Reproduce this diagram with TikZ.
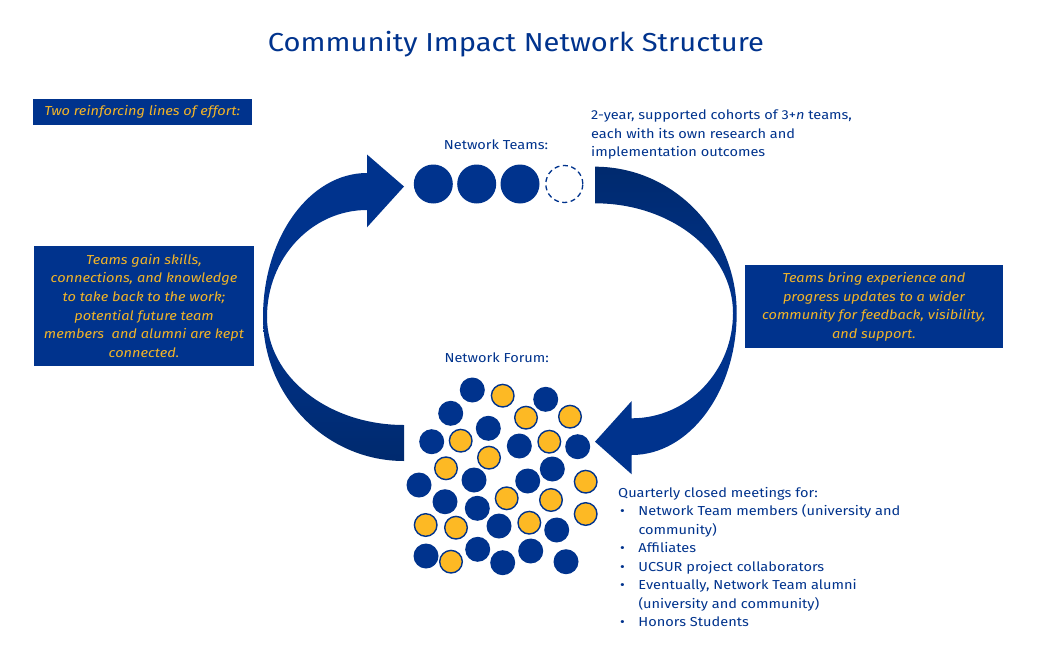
\documentclass[tikz,border=0pt]{standalone}
\usepackage{fontspec}
\setmainfont{Fira Sans}[FakeStretch=1.12]
\definecolor{nblue}{RGB}{0,51,141}
\definecolor{ndark}{RGB}{0,42,110}
\definecolor{nyellow}{RGB}{253,185,36}
\definecolor{tyellow}{RGB}{242,180,40}
\newcommand{\bulitem}{\makebox[20.3pt][l]{\hspace{2pt}\textbullet}}
\begin{document}
\begin{tikzpicture}[x=1pt,y=-1pt,
  bodytext/.style={text=nblue,font=\fontsize{13}{18.5}\selectfont,inner sep=0pt},
  ybox/.style={fill=nblue,text=tyellow,font=\fontsize{13}{18.7}\selectfont\itshape,inner sep=0pt,align=center},
  bdot/.style={circle,fill=nblue,minimum size=25pt,inner sep=0pt},
  ydot/.style={circle,fill=nyellow,draw=nblue,line width=1.4pt,minimum size=22.6pt,inner sep=0pt},
  tdot/.style={circle,fill=nblue,minimum size=39pt,inner sep=0pt},
  tdash/.style={circle,draw=nblue,dashed,dash pattern=on 5pt off 3.5pt,line width=1.3pt,minimum size=37pt,inner sep=0pt}]
\useasboundingbox[fill=white] (0,0) rectangle (1040,666);

% title
\node[text=nblue,font=\fontsize{26}{30}\selectfont,inner sep=0pt] (title) at (516,44) {Community Impact Network Structure};

% left box label
\node[ybox,minimum width=219pt,minimum height=25.7pt] (effort) at (142.2,111.8) {Two reinforcing lines of effort:};

% left curved arrow (upper part)
\fill[nblue] (367,210) -- (367,227.3) -- (404,186.5) -- (367,154.5) -- (367,173)
  .. controls (309.6,173) and (263,237.5) .. (263,317)
  -- (267,317)
  .. controls (267,257.9) and (311.8,210) .. (367,210) -- cycle;
% left curved arrow (lower part)
\shade[top color=nblue,bottom color=ndark] (263,317)
  .. controls (263,396.5) and (326.1,461) .. (404,461)
  -- (404,425)
  .. controls (328.3,425) and (267,376.6) .. (267,317) -- cycle;

% right curved arrow (upper part)
\shade[top color=ndark,bottom color=nblue] (595,166.7)
  .. controls (673.3,166.7) and (736.7,232.2) .. (736.7,313)
  -- (733,313)
  .. controls (733,252.4) and (671.2,203.3) .. (595,203.3) -- cycle;
% right curved arrow (lower part)
\fill[nblue] (736.7,313)
  .. controls (736.7,391.4) and (689.7,455) .. (631.7,455)
  -- (631.7,474.3) -- (595,441.7) -- (631.7,401) -- (631.7,418.3)
  .. controls (687.7,418.3) and (733,371.2) .. (733,313) -- cycle;

% network teams
\node[bodytext] (teamslabel) at (496,145) {Network Teams:};
\node[tdot] (t1) at (433.3,184) {};
\node[tdot] (t2) at (476.7,184) {};
\node[tdot] (t3) at (520,184) {};
\node[tdash] (t4) at (564.3,184) {};

\node[bodytext,anchor=north west,align=left] (cohorts) at (591,110) {2-year, supported cohorts of 3+\textit{n} teams,\\each with its own research and\\implementation outcomes};

% side boxes
\node[ybox,minimum width=220pt,minimum height=120.3pt] (leftbox) at (144,305.9)
 {Teams gain skills,\\connections, and knowledge\\to take back to the work;\\potential future team\\members\ \ and alumni are kept\\connected.};
\node[ybox,minimum width=257.7pt,minimum height=82.7pt] (rightbox) at (873.9,306.8)
 {Teams bring experience and\\progress updates to a wider\\community for feedback, visibility,\\and support.};

% network forum
\node[bodytext] (forumlabel) at (496.7,357.3) {Network Forum:};
\foreach \x/\y [count=\i] in {472.3/390,545.7/399.3,450.7/413.3,488.3/428.3,431.7/441.7,519.3/446,577.7/446.7,552.3/469,474/480,419/485,527.7/481,445/501.7,477.3/508.3,499/526,556.7/530,426/556,477.7/549.3,502.7/562.7,530.7/551,566/561.7}
  \node[bdot] (b\i) at (\x,\y) {};
\foreach \x/\y [count=\i] in {502.7/395.7,526/417.7,570/416.7,460.7/440.7,549.3/441.7,489/457.7,446/468.3,585.7/481.7,506.7/498.3,551/500,585.7/514,425.7/525,456/527.7,529.3/522.7,451/561.7}
  \node[ydot] (y\i) at (\x,\y) {};

\node[bodytext,anchor=north west,align=left] (meetings) at (618,487) {Quarterly closed meetings for:\\
\bulitem Network Team members (university and\\
\hspace*{20.3pt}community)\\
\bulitem Affiliates\\
\bulitem UCSUR project collaborators\\
\bulitem Eventually, Network Team alumni\\
\hspace*{20.3pt}(university and community)\\
\bulitem Honors Students};
\end{tikzpicture}
\end{document}
